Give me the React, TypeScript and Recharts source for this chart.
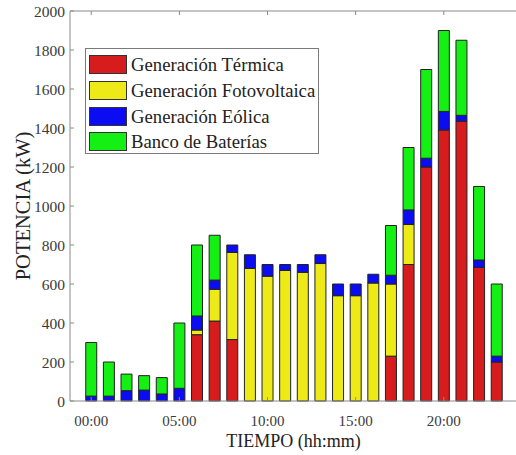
import { BarChart, Bar, XAxis, YAxis } from "recharts";

// Potencia horaria por fuente (kW), de 00:00 a 23:00
const horas = [
  "00:00", "01:00", "02:00", "03:00", "04:00", "05:00", "06:00", "07:00",
  "08:00", "09:00", "10:00", "11:00", "12:00", "13:00", "14:00", "15:00",
  "16:00", "17:00", "18:00", "19:00", "20:00", "21:00", "22:00", "23:00",
];
const termica = [0, 0, 0, 0, 0, 0, 340, 410, 315, 0, 0, 0, 0, 0, 0, 0, 0, 230, 700, 1200, 1390, 1435, 685, 200];
const fotovoltaica = [0, 0, 0, 0, 0, 0, 24, 163, 447, 680, 640, 670, 660, 705, 540, 540, 605, 370, 205, 0, 0, 0, 0, 0];
const eolica = [25, 25, 53, 56, 36, 65, 72, 47, 38, 70, 60, 30, 40, 45, 60, 60, 45, 45, 75, 45, 95, 30, 38, 30];
const baterias = [275, 175, 85, 74, 84, 335, 364, 230, 0, 0, 0, 0, 0, 0, 0, 0, 0, 255, 320, 455, 415, 385, 377, 370];

const yTicks = [0, 200, 400, 600, 800, 1000, 1200, 1400, 1600, 1800, 2000];

const series = [
  { key: "termica", name: "Generación Térmica", color: "#d61c1c" },
  { key: "fotovoltaica", name: "Generación Fotovoltaica", color: "#eeea18" },
  { key: "eolica", name: "Generación Eólica", color: "#0c0cf2" },
  { key: "baterias", name: "Banco de Baterías", color: "#14f014" },
];

const data = horas.map((hora, i) => ({
  hora,
  termica: termica[i],
  fotovoltaica: fotovoltaica[i],
  eolica: eolica[i],
  baterias: baterias[i],
}));

const FONT = "Liberation Serif";
const AXIS = "#8a8a8a";
const TICK_TEXT = "#3a3a3a";
const PAD = { left: 12.4, right: 11.5 };

// ticks hacia dentro, estilo MATLAB
function BottomTick({ x, y, payload }: any) {
  return (
    <g>
      <line x1={x} y1={y} x2={x} y2={y - 4} stroke={AXIS} />
      <text x={x} y={y + 25} textAnchor="middle" fontSize={15} fontFamily={FONT} fill={TICK_TEXT}>
        {payload.value}
      </text>
    </g>
  );
}

function TopTick({ x, y }: any) {
  return <line x1={x} y1={y} x2={x} y2={y + 4} stroke={AXIS} />;
}

function LeftTick({ x, y, payload }: any) {
  return (
    <g>
      <line x1={x} y1={y} x2={x + 4} y2={y} stroke={AXIS} />
      <text x={x - 5} y={y + 5.5} textAnchor="end" fontSize={15.5} fontFamily={FONT} fill={TICK_TEXT}>
        {payload.value}
      </text>
    </g>
  );
}

function RightTick({ x, y }: any) {
  return <line x1={x} y1={y} x2={x - 4} y2={y} stroke={AXIS} />;
}

function YLabel({ viewBox }: any) {
  const cy = viewBox.y + viewBox.height / 2;
  return (
    <text
      transform={`translate(30,${cy}) rotate(-90)`}
      textAnchor="middle"
      fontSize={20.5}
      fontFamily={FONT}
      fill="#222"
    >
      POTENCIA (kW)
    </text>
  );
}

function XLabel({ viewBox }: any) {
  const cx = viewBox.x + viewBox.width / 2;
  return (
    <text x={cx} y={447} textAnchor="middle" fontSize={18} fontFamily={FONT} fill="#222">
      TIEMPO (hh:mm)
    </text>
  );
}

function Leyenda() {
  return (
    <div
      style={{
        position: "absolute",
        left: 85,
        top: 48,
        width: 234,
        height: 106,
        boxSizing: "border-box",
        border: "1px solid #7a7a7a",
        background: "#fff",
        fontFamily: FONT,
        fontSize: 18.7,
        color: "#222",
      }}
    >
      {series.map((s, i) => (
        <div
          key={s.key}
          style={{ position: "absolute", left: 3, top: 6 + i * 25.8, height: 19, display: "flex", alignItems: "center" }}
        >
          <div
            style={{
              width: 38,
              height: 19,
              boxSizing: "border-box",
              background: s.color,
              border: "1px solid #333",
            }}
          />
          <span style={{ marginLeft: 4, lineHeight: "19px", whiteSpace: "nowrap" }}>{s.name}</span>
        </div>
      ))}
    </div>
  );
}

export default function App() {
  return (
    <div
      style={{
        position: "absolute",
        left: 0,
        top: 0,
        width: 516,
        height: 455,
        overflow: "hidden",
        background: "#fff",
      }}
    >
      <BarChart
        width={520}
        height={455}
        data={data}
        margin={{ top: 10, right: 2, bottom: 0, left: 0 }}
        barCategoryGap="19%"
      >
        <XAxis
          dataKey="hora"
          interval={4}
          tickLine={false}
          tickSize={0}
          tickMargin={0}
          tick={<BottomTick />}
          height={54}
          padding={PAD}
          stroke={AXIS}
          label={<XLabel />}
        />
        <XAxis
          xAxisId="top"
          orientation="top"
          dataKey="hora"
          interval={4}
          tickLine={false}
          tickSize={0}
          tickMargin={0}
          tick={<TopTick />}
          height={1}
          padding={PAD}
          stroke={AXIS}
        />
        <YAxis
          domain={[0, 2000]}
          ticks={yTicks}
          interval={0}
          tickLine={false}
          tickSize={0}
          tickMargin={0}
          tick={<LeftTick />}
          width={70}
          stroke={AXIS}
          label={<YLabel />}
        />
        <YAxis
          yAxisId="right"
          orientation="right"
          domain={[0, 2000]}
          ticks={yTicks}
          interval={0}
          tickLine={false}
          tickSize={0}
          tickMargin={0}
          tick={<RightTick />}
          width={1}
          stroke={AXIS}
        />
        {series.map((s) => (
          <Bar
            key={s.key}
            dataKey={s.key}
            name={s.name}
            stackId="potencia"
            fill={s.color}
            stroke="#222"
            strokeWidth={1}
            isAnimationActive={false}
          />
        ))}
      </BarChart>
      <Leyenda />
    </div>
  );
}
